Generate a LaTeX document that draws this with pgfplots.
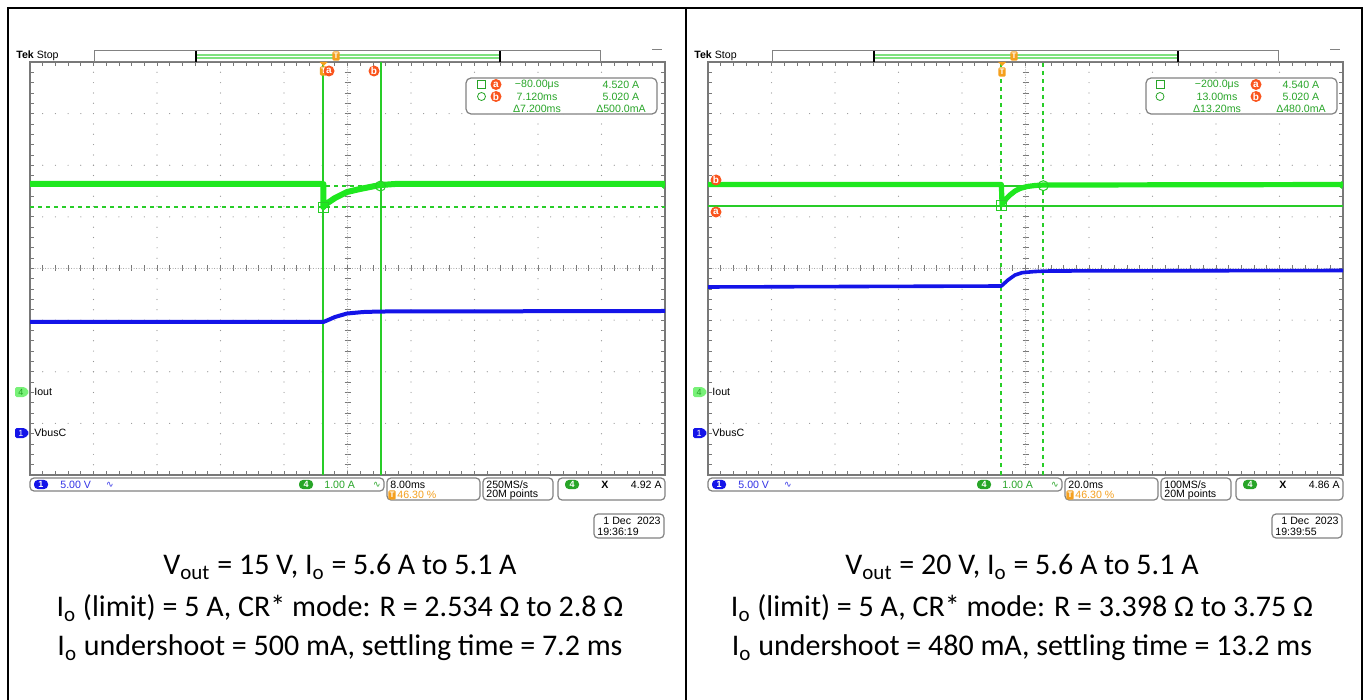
\documentclass[border=0pt]{standalone}
\usepackage{pgfplots}
\pgfplotsset{compat=1.18}
\usepackage{fontspec}
\setmainfont{Carlito}
\newfontfamily\tek{Liberation Sans}
\newfontfamily\dv{DejaVu Sans}
\definecolor{trg}{RGB}{30,232,30}
\definecolor{trb}{RGB}{20,20,232}
\definecolor{cur}{RGB}{40,205,40}
\definecolor{org}{RGB}{250,85,30}
\definecolor{tor}{RGB}{245,160,30}
\definecolor{tgreen}{RGB}{40,165,40}
\definecolor{tblue}{RGB}{50,50,230}
\definecolor{gridc}{RGB}{150,150,150}
\definecolor{tickc}{RGB}{120,120,120}
\definecolor{boxc}{RGB}{130,130,130}
\pgfplotsset{tekaxis/.style={
  anchor=south west, width=317.5pt, height=206.5pt, scale only axis,
  xmin=-5,xmax=5,ymin=-4,ymax=4,
  xtick={-5,...,5}, ytick={-4,...,4},
  minor x tick num=4, minor y tick num=4,
  xticklabels={}, yticklabels={},
  axis line style={draw=tickc, line width=0.7pt},
  tick style={draw=tickc, line width=0.4pt},
  major tick length=2pt, minor tick length=2pt,
  tick align=inside,
  grid=major,
  major x grid style={draw=gridc, line width=0.6pt, line cap=round, dash pattern=on 0pt off 5.1625pt},
  major y grid style={draw=gridc, line width=0.6pt, line cap=round, dash pattern=on 0pt off 6.35pt},
}}
\newcommand\tk[1]{{\tek\fontsize{5.3}{6}\selectfont #1}}
\newcommand\crosshair{%
  \draw[gridc, line width=0.5pt, line cap=round, dash pattern=on 0pt off 1.3pt] (347.5,62) -- (347.5,475);
  \draw[gridc, line width=0.5pt, line cap=round, dash pattern=on 0pt off 1.3pt] (30,268.5) -- (665,268.5);
  \foreach \i in {1,...,39} \draw[tickc, line width=0.4pt] (344.5,62+\i*10.325) -- (350.5,62+\i*10.325);
  \foreach \i in {1,...,49} \draw[tickc, line width=0.4pt] (30+\i*12.7,265.5) -- (30+\i*12.7,271.5);
}
\newcommand\orgc[3]{\node[circle, fill=org, inner sep=0pt, minimum size=5.5pt, text=white, font=\tek\bfseries\fontsize{5}{5}\selectfont] at (#1,#2) {#3};}
\newcommand\tmark[2]{\node[fill=tor, rounded corners=0.6pt, inner sep=0pt, minimum width=3.6pt, minimum height=4.6pt, text=white, font=\tek\bfseries\fontsize{4}{4}\selectfont] at (#1,#2) {T};}
\newcommand\common[4]{%
  \node[anchor=west, inner sep=0pt] at (16,56) {\tk{\textbf{Tek} Stop}};
  \draw[boxc, line width=0.5pt] (94,51) rectangle (600,62);
  \draw[cur!60!white, line width=0.6pt] (196,55) -- (500,55);
  \draw[cur!60!white, line width=0.6pt] (196,58) -- (500,58);
  \draw[black, line width=0.6pt] (196,51) -- (196,62);
  \draw[black, line width=0.6pt] (500,51) -- (500,62);
  \tmark{336}{56}
  \draw[boxc, line width=0.5pt] (652,50) -- (662,50);
  \fill[trg!60!white, rounded corners=0.8pt] (15,387) -- (25,387) -- (29.5,392) -- (25,397) -- (15,397) -- cycle;
  \node[inner sep=0pt, text=tgreen, font=\tek\fontsize{4.5}{4.5}\selectfont] at (21,392) {4};
  \node[anchor=west, inner sep=0pt] at (34,392) {\tk{Iout}};
  \fill[trb, rounded corners=0.8pt] (15,428) -- (25,428) -- (29.5,433) -- (25,438) -- (15,438) -- cycle;
  \node[inner sep=0pt, text=white, font=\tek\fontsize{4.5}{4.5}\selectfont] at (21,433) {1};
  \node[anchor=west, inner sep=0pt] at (34,433) {\tk{VbusC}};
  \fill[trg] (664,181) -- (664,189) -- (659,185) -- cycle;
  \draw[boxc, line width=0.6pt, rounded corners=2pt] (30,478) rectangle (384,491);
  \node[fill=trb, rounded corners=2pt, inner sep=0pt, minimum width=7pt, minimum height=4.6pt, text=white, font=\tek\bfseries\fontsize{4.5}{4.5}\selectfont] at (41,484.5) {1};
  \node[anchor=west, inner sep=0pt, text=tblue] at (60,484.5) {\tk{5.00 V}};
  \node[inner sep=0pt, text=tblue, font=\dv\fontsize{4.5}{4.5}\selectfont] at (110,484.5) {∿};
  \node[fill=tgreen, rounded corners=2pt, inner sep=0pt, minimum width=7pt, minimum height=4.6pt, text=white, font=\tek\bfseries\fontsize{4.5}{4.5}\selectfont] at (306,484.5) {4};
  \node[anchor=west, inner sep=0pt, text=tgreen] at (324,484.5) {\tk{1.00 A}};
  \node[inner sep=0pt, text=tgreen, font=\dv\fontsize{4.5}{4.5}\selectfont] at (377,484.5) {∿};
  \draw[boxc, line width=0.6pt, rounded corners=2pt] (387,478) rectangle (480,500);
  \node[anchor=west, inner sep=0pt] at (390,484.5) {\tk{#1}};
  \tmark{392}{495}
  \node[anchor=west, inner sep=0pt, text=tor] at (397,495) {\tk{46.30 \%}};
  \draw[boxc, line width=0.6pt, rounded corners=2pt] (483,478) rectangle (553,500);
  \node[anchor=west, inner sep=0pt] at (486,484.5) {\tk{#2}};
  \node[anchor=west, inner sep=0pt] at (486,495) {\tk{20M points}};
  \draw[boxc, line width=0.6pt, rounded corners=2pt] (558,478) rectangle (665,500);
  \node[fill=tgreen, rounded corners=2pt, inner sep=0pt, minimum width=7pt, minimum height=4.6pt, text=white, font=\tek\bfseries\fontsize{4.5}{4.5}\selectfont] at (572,484.5) {4};
  \node[inner sep=0pt] at (605,484.5) {\tk{\textbf{X}}};
  \node[anchor=east, inner sep=0pt] at (662,484.5) {\tk{#3}};
  \draw[boxc, line width=0.6pt, rounded corners=2pt] (594,514) rectangle (664,538);
  \node[anchor=east, inner sep=0pt] at (661,520.5) {\tk{1 Dec\ \ 2023}};
  \node[anchor=west, inner sep=0pt] at (597,531.5) {\tk{#4}};
}
\begin{document}
\begin{tikzpicture}[x=0.5pt,y=-0.5pt]
\useasboundingbox (0,0) rectangle (1370,700);
\fill[white] (0,0) rectangle (1370,700);
\draw[black, line width=1.2pt] (8,710) -- (8,8) -- (1362,8) -- (1362,710);
\draw[black, line width=1.2pt] (686,8) -- (686,710);
\crosshair
\begin{scope}[xshift=339pt]\crosshair\end{scope}

\begin{axis}[tekaxis, at={(15pt,-237.5pt)}]
\addplot[draw=cur, line width=1pt] coordinates {(-0.38,-4) (-0.38,4)};
\addplot[draw=cur, line width=1pt] coordinates {(0.52,-4) (0.52,4)};
\addplot[draw=cur, line width=1pt, dash pattern=on 2pt off 2pt] coordinates {(-5,1.185) (5,1.185)};
\addplot[draw=cur, line width=1pt, dash pattern=on 2pt off 2pt] coordinates {(-5,1.598) (5,1.598)};
\addplot[trb, line width=2pt, line join=round] coordinates {(-5,-1.036) (-0.38,-1.036) (-0.30,-0.995) (-0.197,-0.939) (-0.008,-0.872) (0.244,-0.843) (0.512,-0.833) (5,-0.823)};
\addplot[trg, line width=3pt, line join=round] coordinates {(-5,1.637) (-0.38,1.637) (-0.38,1.191) (-0.36,1.230) (-0.197,1.366) (-0.008,1.482) (0.197,1.540) (0.354,1.579) (0.512,1.617) (0.748,1.637) (5,1.637)};
\addplot[cur, only marks, mark=square, mark size=2.5pt, mark options={line width=0.5pt}] coordinates {(-0.38,1.185)};
\addplot[cur, only marks, mark=o, mark size=2.5pt, mark options={line width=0.5pt}] coordinates {(0.52,1.598)};
\end{axis}

\begin{axis}[tekaxis, at={(354pt,-237.5pt)}]
\addplot[draw=cur, line width=1pt, dash pattern=on 2pt off 2pt] coordinates {(-0.38,-4) (-0.38,4)};
\addplot[draw=cur, line width=1pt, dash pattern=on 2pt off 2pt] coordinates {(0.28,-4) (0.28,4)};
\addplot[draw=cur, line width=1pt] coordinates {(-5,1.216) (5,1.216)};
\addplot[draw=cur, line width=1pt] coordinates {(-5,1.604) (5,1.604)};
\addplot[trb, line width=1.8pt, line join=round] coordinates {(-5,-0.358) (-0.38,-0.339) (-0.276,-0.223) (-0.165,-0.126) (-0.055,-0.081) (0.150,-0.058) (0.386,-0.048) (5,-0.039)};
\addplot[trg, line width=2.6pt, line join=round] coordinates {(-5,1.627) (-0.38,1.627) (-0.37,1.230) (-0.307,1.346) (-0.244,1.424) (-0.165,1.501) (-0.087,1.550) (0.024,1.588) (0.150,1.608) (0.276,1.617) (5,1.627)};
\addplot[cur, only marks, mark=square, mark size=2.5pt, mark options={line width=0.5pt}] coordinates {(-0.38,1.216)};
\addplot[cur, only marks, mark=o, mark size=2.5pt, mark options={line width=0.5pt}] coordinates {(0.28,1.604)};
\end{axis}

\common{8.00ms}{250MS/s}{4.92 A}{19:36:19}
\begin{scope}[xshift=339pt]\common{20.0ms}{100MS/s}{4.86 A}{19:39:55}\end{scope}

\fill[tor] (319.5,62) -- (327.5,62) -- (323.5,66) -- cycle;
\tmark{323.5}{71}
\orgc{329}{71}{a}
\orgc{374}{71}{b}
\fill[tor] (998,62) -- (1006,62) -- (1002,66) -- cycle;
\tmark{1002}{72}
\orgc{716}{180}{b}
\orgc{716}{212}{a}

\draw[boxc, line width=0.6pt, rounded corners=2.5pt, fill=white] (466,78) rectangle (657,114);
\draw[tgreen, line width=0.4pt] (477.5,80.5) rectangle (485.5,88.5);
\draw[tgreen, line width=0.4pt] (481.5,96.5) circle[radius=2pt];
\orgc{496}{84.5}{a}
\orgc{496}{96.5}{b}
\node[text=tgreen, inner sep=0pt] at (537,84.5) {\tk{−80.00μs}};
\node[text=tgreen, inner sep=0pt] at (537,96.5) {\tk{7.120ms}};
\node[text=tgreen, inner sep=0pt] at (537,108.5) {\tk{Δ7.200ms}};
\node[text=tgreen, inner sep=0pt] at (621,84.5) {\tk{4.520 A}};
\node[text=tgreen, inner sep=0pt] at (621,96.5) {\tk{5.020 A}};
\node[text=tgreen, inner sep=0pt] at (621,108.5) {\tk{Δ500.0mA}};
\draw[boxc, line width=0.6pt, rounded corners=2.5pt, fill=white] (1146,78) rectangle (1337,114);
\draw[tgreen, line width=0.4pt] (1156,80.5) rectangle (1164,88.5);
\draw[tgreen, line width=0.4pt] (1160,96.5) circle[radius=2pt];
\orgc{1256}{84.5}{a}
\orgc{1256}{96.5}{b}
\node[text=tgreen, inner sep=0pt] at (1217,84.5) {\tk{−200.0μs}};
\node[text=tgreen, inner sep=0pt] at (1217,96.5) {\tk{13.00ms}};
\node[text=tgreen, inner sep=0pt] at (1217,108.5) {\tk{Δ13.20ms}};
\node[text=tgreen, inner sep=0pt] at (1301,84.5) {\tk{4.540 A}};
\node[text=tgreen, inner sep=0pt] at (1301,96.5) {\tk{5.020 A}};
\node[text=tgreen, inner sep=0pt] at (1301,108.5) {\tk{Δ480.0mA}};

\begin{scope}[every node/.style={font=\fontsize{15}{17}\selectfont, inner sep=0pt}]
\node at (340,567) {V\textsubscript{out} = 15 V, I\textsubscript{o} = 5.6 A to 5.1 A};
\node at (340,608) {I\textsubscript{o} (limit) = 5 A, CR* mode: R = 2.534 Ω to 2.8 Ω};
\node at (340,648) {I\textsubscript{o} undershoot = 500 mA, settling time = 7.2 ms};
\node at (1022,567) {V\textsubscript{out} = 20 V, I\textsubscript{o} = 5.6 A to 5.1 A};
\node at (1022,608) {I\textsubscript{o} (limit) = 5 A, CR* mode: R = 3.398 Ω to 3.75 Ω};
\node at (1022,648) {I\textsubscript{o} undershoot = 480 mA, settling time = 13.2 ms};
\end{scope}
\end{tikzpicture}
\end{document}
